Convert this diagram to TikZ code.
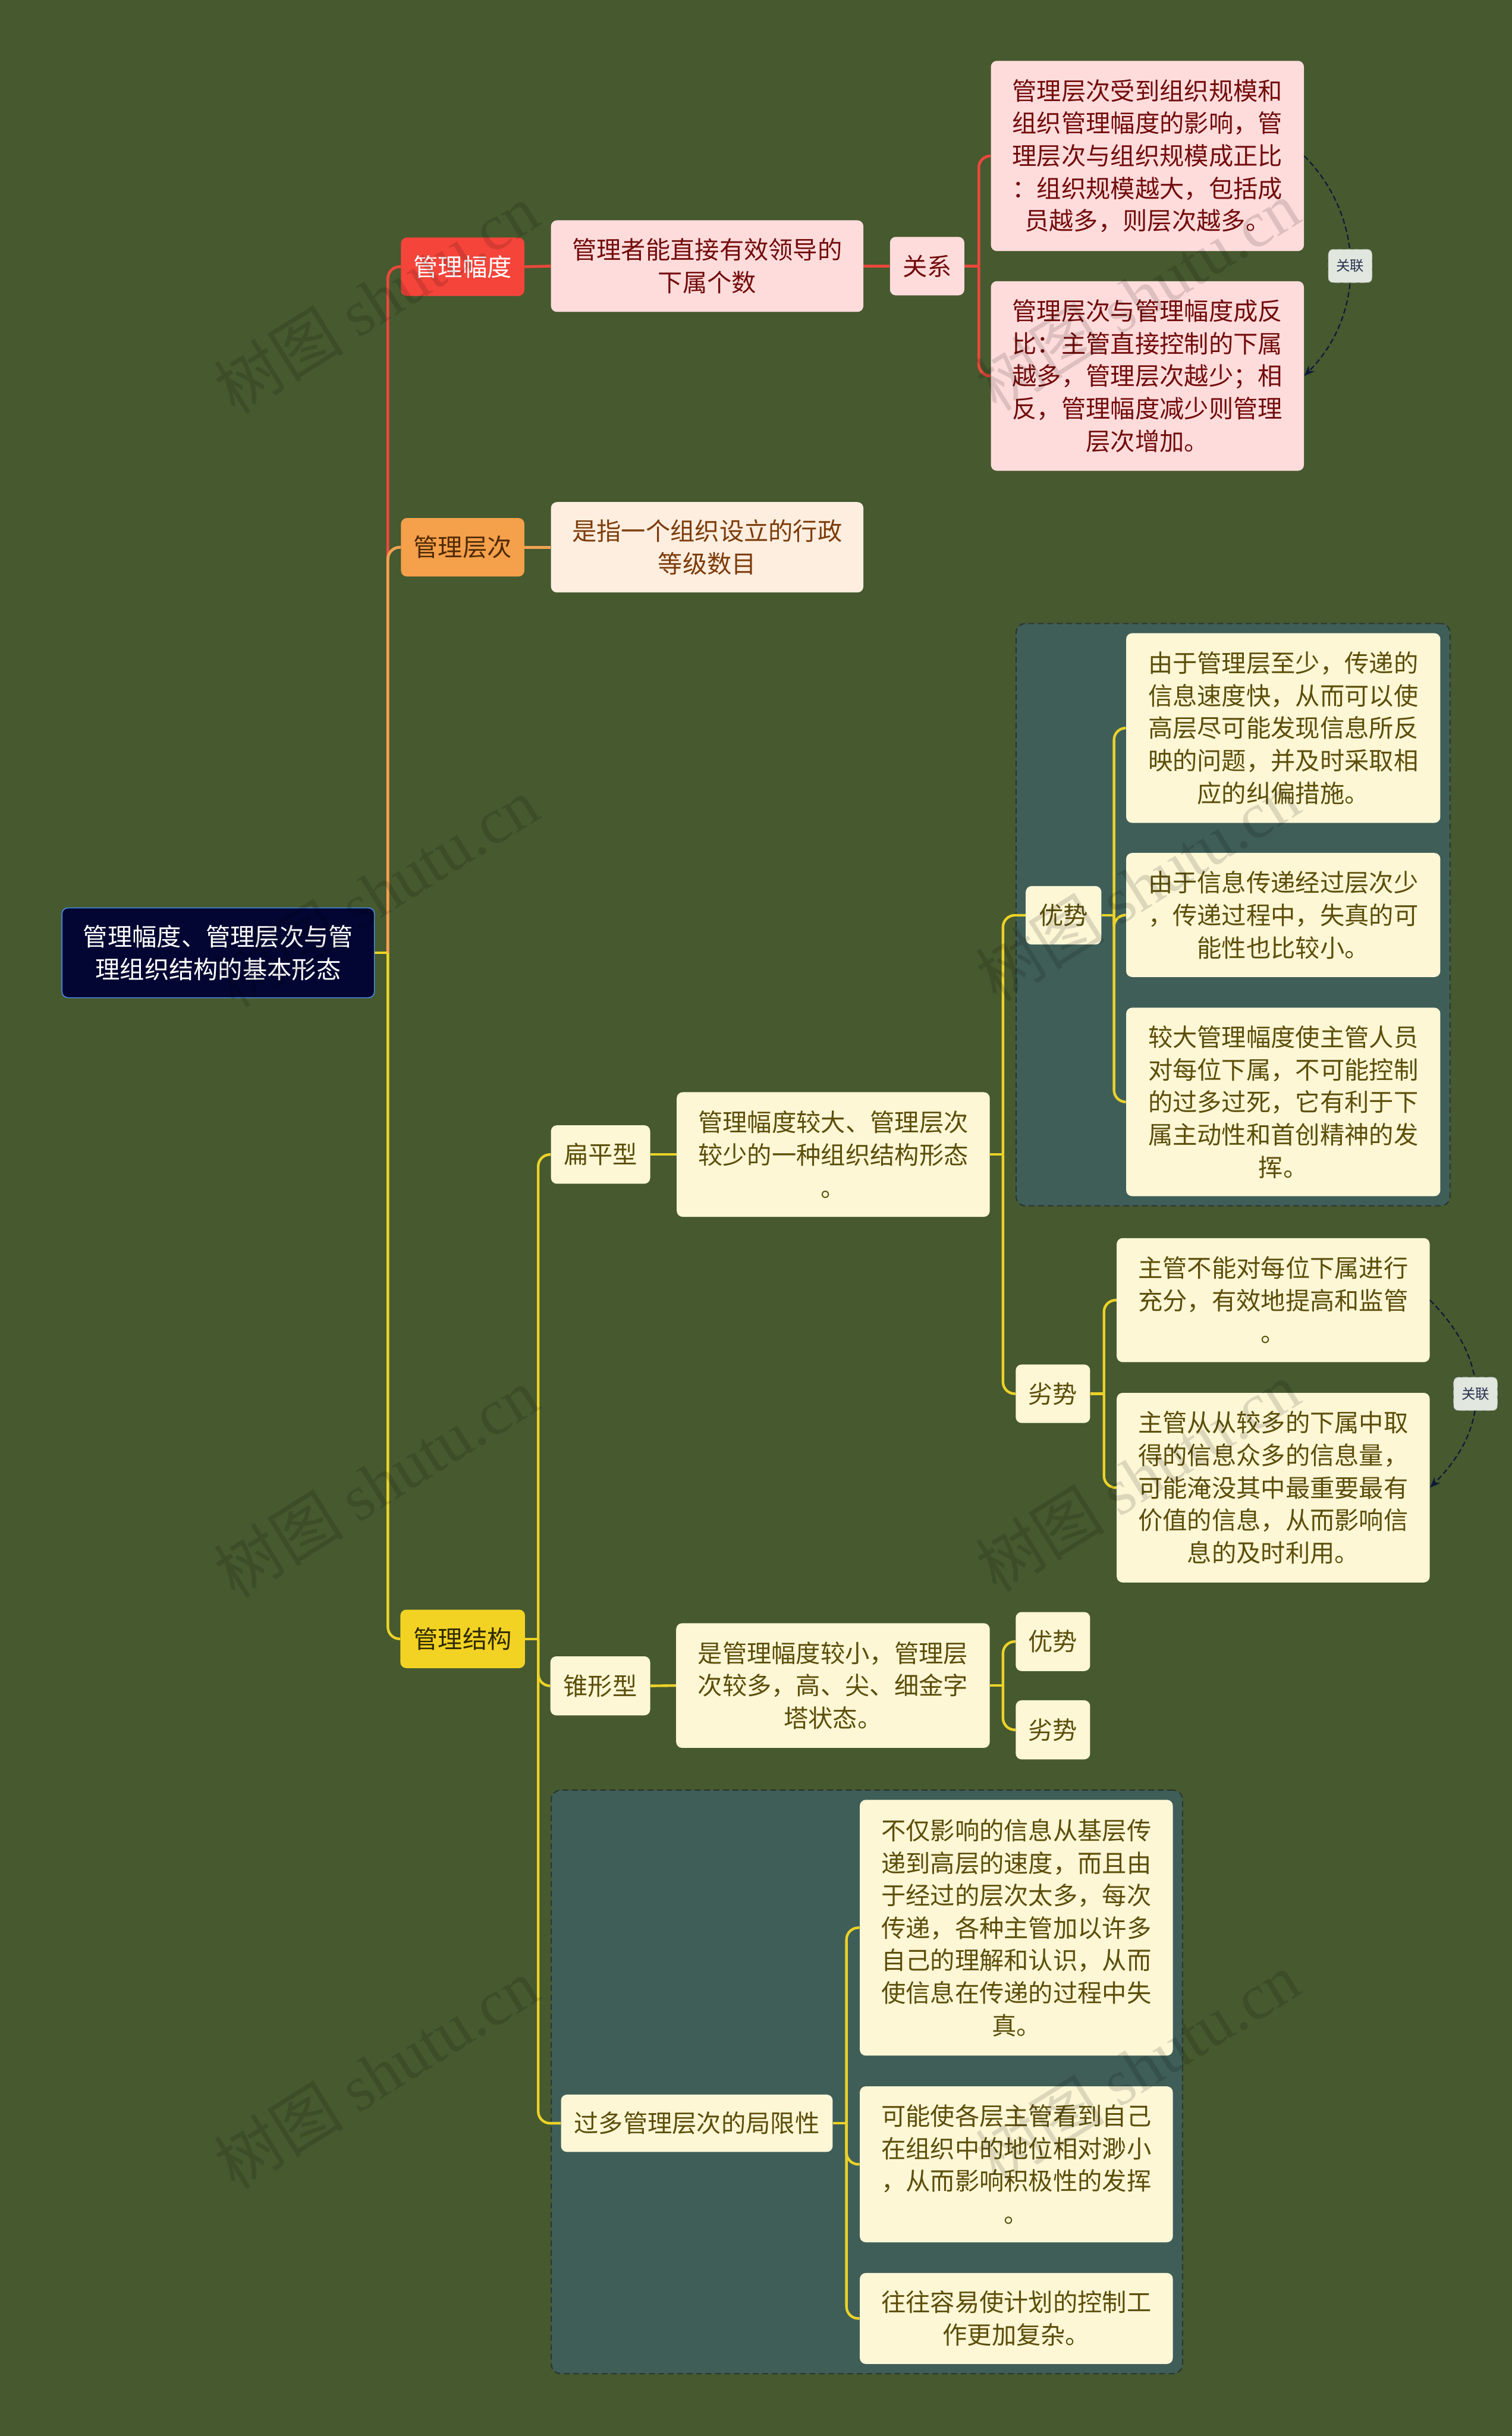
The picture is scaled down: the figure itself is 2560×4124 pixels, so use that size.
\documentclass[tikz,border=0pt]{standalone}
\usepackage{fontspec}
\setmainfont{Noto Sans CJK SC}
\newfontfamily\wmlatin{Liberation Serif}
\usetikzlibrary{arrows.meta,calc,fit}
\definecolor{bgc}{RGB}{70,89,47}
\definecolor{grpfill}{RGB}{63,94,88}
\definecolor{grpborder}{RGB}{40,50,46}
\definecolor{rootfill}{RGB}{3,6,50}
\definecolor{rootborder}{RGB}{70,140,230}
\definecolor{redfill}{RGB}{245,68,58}
\definecolor{redline}{RGB}{233,72,60}
\definecolor{pinkfill}{RGB}{255,220,220}
\definecolor{pinktext}{RGB}{115,12,12}
\definecolor{orangefill}{RGB}{245,160,75}
\definecolor{orangetext}{RGB}{80,42,5}
\definecolor{orangeline}{RGB}{240,162,82}
\definecolor{peachfill}{RGB}{253,238,224}
\definecolor{peachtext}{RGB}{125,60,10}
\definecolor{yellowfill}{RGB}{242,211,35}
\definecolor{yellowtext}{RGB}{48,42,0}
\definecolor{yellowline}{RGB}{236,210,40}
\definecolor{creamfill}{RGB}{253,247,214}
\definecolor{creamtext}{RGB}{92,78,10}
\definecolor{relfill}{RGB}{225,230,222}
\definecolor{relborder}{RGB}{185,195,185}
\definecolor{reltext}{RGB}{40,50,80}
\definecolor{relline}{RGB}{15,25,55}
\newcommand\fs{\fontsize{20.8pt}{27.5pt}\selectfont}
\newcommand\fsrel{\fontsize{11.8pt}{14pt}\selectfont}
\newcommand\fswm{\fontsize{55pt}{60pt}\selectfont}
\pgfdeclarelayer{back}
\pgfdeclarelayer{mid}
\pgfsetlayers{back,mid,main}
\tikzset{
  nb/.style={rounded corners=5pt, align=center, inner sep=0pt, font=\fs},
  wh/.style 2 args={minimum width=#1*0.5pt, minimum height=#2*0.5pt},
  rootn/.style={nb, fill=rootfill, draw=rootborder, line width=0.8pt, text=white},
  redn/.style={nb, fill=redfill, text=white},
  pinkn/.style={nb, fill=pinkfill, text=pinktext},
  orangen/.style={nb, fill=orangefill, text=orangetext},
  peachn/.style={nb, fill=peachfill, text=peachtext},
  yellown/.style={nb, fill=yellowfill, text=yellowtext},
  creamn/.style={nb, fill=creamfill, text=creamtext},
  grp/.style={draw=grpborder, fill=grpfill, dash pattern=on 5pt off 3pt, line width=0.9pt, rounded corners=8pt, inner sep=8pt},
  lnred/.style={draw=redline, line width=2.4pt, rounded corners=10pt},
  lnorange/.style={draw=orangeline, line width=2.4pt, rounded corners=10pt},
  lnyellow/.style={draw=yellowline, line width=2.2pt, rounded corners=10pt},
  rel/.style={draw=relline, line width=1.1pt, dash pattern=on 4.5pt off 2.5pt, -{Stealth[length=9pt,width=7pt]}},
  relbox/.style={fill=relfill, draw=relborder, line width=0.5pt, rounded corners=4pt, text=reltext, font=\fsrel, inner sep=0pt, minimum width=37pt, minimum height=28pt},
  wm/.style={text=black, text opacity=0.13, font=\fswm, inner sep=0pt, rotate=32}
}
\begin{document}
\begin{tikzpicture}[x=0.5pt,y=-0.5pt]
\begin{pgfonlayer}{back}
\fill[bgc] (0,0) rectangle (2560,4124);
\end{pgfonlayer}
\useasboundingbox (0,0) rectangle (2560,4124);

% root and first level
\node[rootn, wh={529}{152}] (root) at (369.5,1613) {管理幅度、管理层次与管\\理组织结构的基本形态};
\node[redn, wh={209}{99}] (fu) at (783.5,451.5) {管理幅度};
\node[orangen, wh={209}{99}] (ceng) at (783.5,926.5) {管理层次};
\node[yellown, wh={211}{99}] (jie) at (783.5,2774.5) {管理结构};

% red branch
\node[pinkn, wh={529}{155}] (fudesc) at (1197.5,450.5) {管理者能直接有效领导的\\下属个数};
\node[pinkn, wh={126}{99}] (gx) at (1570,450.5) {关系};
\node[pinkn, wh={530}{322}] (b1) at (1943,264) {管理层次受到组织规模和\\组织管理幅度的影响，管\\理层次与组织规模成正比\\：组织规模越大，包括成\\员越多，则层次越多。};
\node[pinkn, wh={530}{321}] (b2) at (1943,636.5) {管理层次与管理幅度成反\\比：主管直接控制的下属\\越多，管理层次越少；相\\反，管理幅度减少则管理\\层次增加。};

% orange branch
\node[peachn, wh={529}{153}] (cengdesc) at (1197.5,926.5) {是指一个组织设立的行政\\等级数目};

% yellow branch
\node[creamn, wh={168}{99}] (bp) at (1017,1954.5) {扁平型};
\node[creamn, wh={530}{211}] (bpdesc) at (1411,1954.5) {管理幅度较大、管理层次\\较少的一种组织结构形态\\。};
\node[creamn, wh={128}{99}] (you1) at (1801,1549.5) {优势};
\node[creamn, wh={532}{321}] (a1) at (2173,1232.5) {由于管理层至少，传递的\\信息速度快，从而可以使\\高层尽可能发现信息所反\\映的问题，并及时采取相\\应的纠偏措施。};
\node[creamn, wh={532}{210}] (a2) at (2173,1549) {由于信息传递经过层次少\\，传递过程中，失真的可\\能性也比较小。};
\node[creamn, wh={532}{319}] (a3) at (2173,1865.5) {较大管理幅度使主管人员\\对每位下属，不可能控制\\的过多过死，它有利于下\\属主动性和首创精神的发\\挥。};
\node[creamn, wh={126}{99}] (lie1) at (1783,2359.5) {劣势};
\node[creamn, wh={530}{210}] (d1) at (2156,2201) {主管不能对每位下属进行\\充分，有效地提高和监管\\。};
\node[creamn, wh={530}{321}] (d2) at (2156,2518.5) {主管从从较多的下属中取\\得的信息众多的信息量，\\可能淹没其中最重要最有\\价值的信息，从而影响信\\息的及时利用。};

\node[creamn, wh={169}{100}] (zx) at (1016.5,2854) {锥形型};
\node[creamn, wh={531}{211}] (zxdesc) at (1410.5,2853.5) {是管理幅度较小，管理层\\次较多，高、尖、细金字\\塔状态。};
\node[creamn, wh={126}{100}] (you2) at (1783,2779) {优势};
\node[creamn, wh={126}{100}] (lie2) at (1783,2928.5) {劣势};

\node[creamn, wh={460}{97}] (guo) at (1180,3594.5) {过多管理层次的局限性};
\node[creamn, wh={530}{433}] (l1) at (1721,3263.5) {不仅影响的信息从基层传\\递到高层的速度，而且由\\于经过的层次太多，每次\\传递，各种主管加以许多\\自己的理解和认识，从而\\使信息在传递的过程中失\\真。};
\node[creamn, wh={530}{264}] (l2) at (1721,3664) {可能使各层主管看到自己\\在组织中的地位相对渺小\\，从而影响积极性的发挥\\。};
\node[creamn, wh={530}{154}] (l3) at (1721,3925) {往往容易使计划的控制工\\作更加复杂。};

% group boxes
\begin{pgfonlayer}{back}
\node[grp, fit=(you1)(a1)(a3)] (g1) {};
\node[grp, fit=(guo)(l1)(l3)] (g2) {};
\end{pgfonlayer}

% junctions
\coordinate (rj) at ($(root.east)+(22,0)$);
\coordinate (gxj) at ($(gx.east)+(24,0)$);
\coordinate (jj) at ($(jie.east)+(22,0)$);
\coordinate (bpj) at ($(bpdesc.east)+(22,0)$);
\coordinate (y1j) at ($(you1.east)+(21,0)$);
\coordinate (l1j) at ($(lie1.east)+(23,0)$);
\coordinate (zxj) at ($(zxdesc.east)+(22,0)$);
\coordinate (gj) at ($(guo.east)+(23,0)$);

\begin{pgfonlayer}{mid}
% red
\draw[lnred] (rj) |- (fu.west);
\draw[lnred] (fu.east) -- (fudesc.west);
\draw[lnred] (fudesc.east) -- (gx.west);
\draw[lnred] (gx.east) -- (gxj);
\draw[lnred] (gxj) |- (b1.west);
\draw[lnred] (gxj) |- (b2.west);
% orange
\draw[lnorange] (rj) |- (ceng.west);
\draw[lnorange] (ceng.east) -- (cengdesc.west);
% yellow
\draw[lnyellow] (root.east) -- (rj);
\draw[lnyellow] (rj) |- (jie.west);
\draw[lnyellow] (jie.east) -- (jj);
\draw[lnyellow] (jj) |- (bp.west);
\draw[lnyellow] (jj) |- (zx.west);
\draw[lnyellow] (jj) |- (guo.west);
\draw[lnyellow] (bp.east) -- (bpdesc.west);
\draw[lnyellow] (bpdesc.east) -- (bpj);
\draw[lnyellow] (bpj) |- (you1.west);
\draw[lnyellow] (bpj) |- (lie1.west);
\draw[lnyellow] (you1.east) -- (y1j);
\draw[lnyellow] (y1j) |- (a1.west);
\draw[lnyellow] (y1j) |- (a2.west);
\draw[lnyellow] (y1j) |- (a3.west);
\draw[lnyellow] (lie1.east) -- (l1j);
\draw[lnyellow] (l1j) |- (d1.west);
\draw[lnyellow] (l1j) |- (d2.west);
\draw[lnyellow] (zx.east) -- (zxdesc.west);
\draw[lnyellow] (zxdesc.east) -- (zxj);
\draw[lnyellow] (zxj) |- (you2.west);
\draw[lnyellow] (zxj) |- (lie2.west);
\draw[lnyellow] (guo.east) -- (gj);
\draw[lnyellow] (gj) |- (l1.west);
\draw[lnyellow] (gj) |- (l2.west);
\draw[lnyellow] (gj) |- (l3.west);
\end{pgfonlayer}

% relation connectors
\draw[rel] (b1.east) .. controls ($(b1.east)+(104,104)$) and ($(b2.east)+(104,-104)$) .. (b2.east) node[relbox, pos=0.5] (rl1) {关联};
\draw[rel] (d1.east) .. controls ($(d1.east)+(103,103)$) and ($(d2.east)+(103,-103)$) .. (d2.east) node[relbox, pos=0.5] (rl2) {关联};

% watermarks
\node[wm] (wm1) at (637,505) {树图 {\wmlatin shutu.cn}};
\node[wm] (wm2) at (1926,500) {树图 {\wmlatin shutu.cn}};
\node[wm] (wm3) at (637,1510) {树图 {\wmlatin shutu.cn}};
\node[wm] (wm4) at (1926,1500) {树图 {\wmlatin shutu.cn}};
\node[wm] (wm5) at (637,2510) {树图 {\wmlatin shutu.cn}};
\node[wm] (wm6) at (1926,2500) {树图 {\wmlatin shutu.cn}};
\node[wm] (wm7) at (637,3510) {树图 {\wmlatin shutu.cn}};
\node[wm] (wm8) at (1926,3500) {树图 {\wmlatin shutu.cn}};
\end{tikzpicture}
\end{document}
